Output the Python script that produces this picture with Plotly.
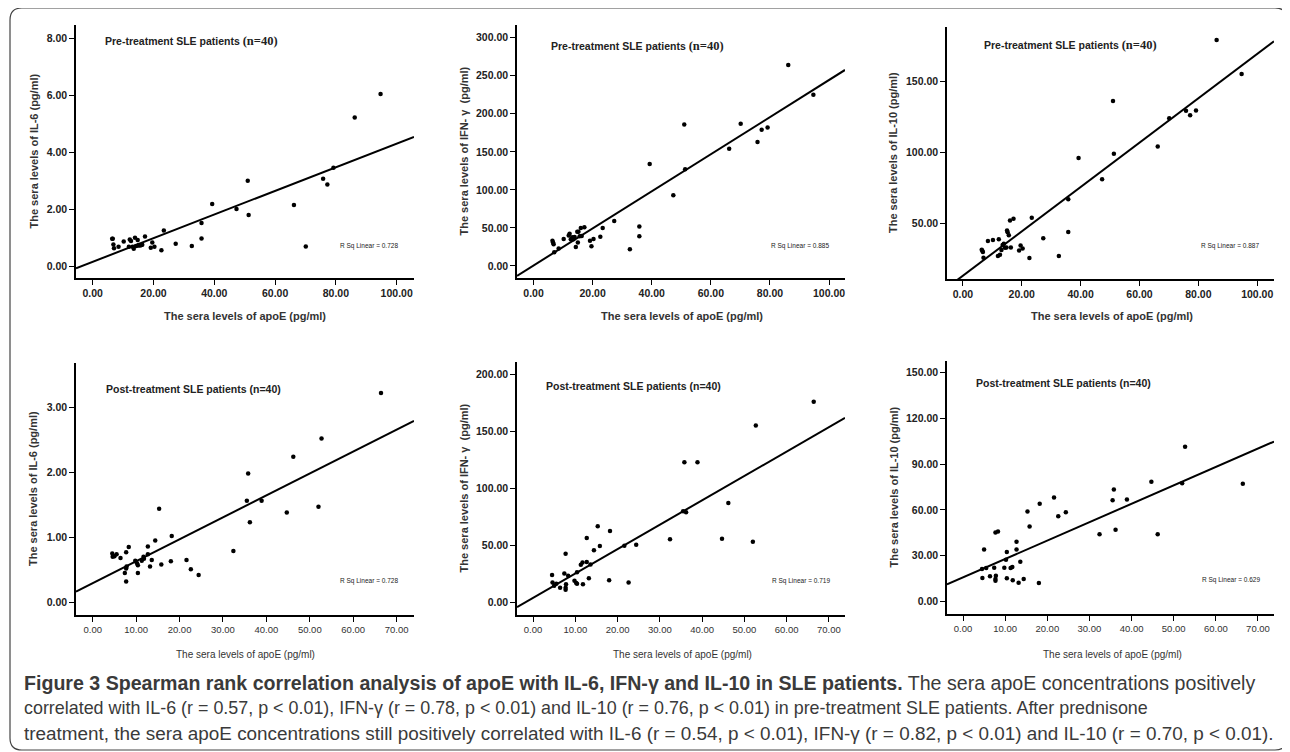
import plotly.graph_objects as go

# ---------------- data ----------------
pre_apoe = [94.7, 86.2, 79.2, 77.2, 75.8, 70.1, 66.2, 51.0, 51.3, 47.3,
            39.3, 35.8, 35.8, 32.6, 27.3, 23.4, 22.6, 20.3, 19.6, 19.1,
            17.2, 16.0, 15.6, 15.2, 15.0, 14.8, 14.3, 13.9, 13.5, 13.1,
            12.6, 12.2, 11.9, 10.2, 8.5, 7.0, 6.8, 6.6, 6.4, 16.3]
pre_il6 = [6.04, 5.21, 3.45, 2.86, 3.06, 0.69, 2.14, 2.99, 1.79, 2.00,
           2.18, 1.51, 0.97, 0.70, 0.78, 1.25, 0.55, 0.68, 0.83, 0.64,
           1.04, 0.74, 0.72, 0.74, 0.72, 0.91, 0.70, 0.99, 0.61, 0.68,
           0.88, 0.93, 0.68, 0.86, 0.68, 0.62, 0.76, 0.96, 0.96, 0.75]
pre_ifn = [225, 264, 182, 179, 163, 187, 154, 186, 127, 93,
           134, 52, 39, 22, 59, 50, 38.5, 35.5, 26, 33,
           51, 50, 39, 45, 31, 45, 25, 38, 35, 37.7,
           35, 42.5, 40, 35.5, 23, 18, 28.5, 31, 33, 39.5]
pre_il10 = [155, 179, 129.4, 126, 129.2, 124, 104, 136, 99, 81,
            96, 67, 44, 27, 39.5, 54, 25.6, 32.4, 34.5, 31,
            53.3, 52, 41.6, 43.7, 45, 33, 32.9, 35.7, 34.8, 31.3,
            28, 38.8, 27, 38.3, 37.6, 25.9, 29.9, 30.8, 31.5, 33]

post_apoe = [66.4, 52.7, 46.2, 52.0, 44.7, 35.8, 35.5, 38.9, 36.2, 32.4,
             15.3, 18.2, 14.4, 12.7, 18.0, 15.8, 21.6, 22.6, 24.4, 13.6,
             13.2, 12.7, 11.7, 11.3, 10.4, 10.4, 9.8, 8.3, 7.7, 7.8,
             7.7, 7.4, 7.7, 6.4, 5.5, 5.0, 4.5, 4.6, 10.2, 11.8]
post_il6 = [3.22, 2.52, 2.24, 1.47, 1.38, 1.98, 1.56, 1.56, 1.23, 0.79,
            1.44, 1.02, 0.95, 0.86, 0.63, 0.58, 0.65, 0.51, 0.42, 0.65,
            0.55, 0.74, 0.70, 0.64, 0.45, 0.57, 0.64, 0.85, 0.77, 0.55,
            0.52, 0.45, 0.32, 0.68, 0.74, 0.71, 0.75, 0.70, 0.60, 0.67]
post_ifn = [176, 155, 87.1, 53.2, 55.8, 122.8, 79.8, 122.8, 79, 55.3,
            66.7, 62.5, 45.6, 56.4, 19.3, 49.4, 49.7, 17.5, 50.6, 33.3,
            21.1, 35.4, 35, 33, 16.4, 26.3, 19, 23.4, 42.7, 15.8,
            12.9, 25.2, 11.1, 12.9, 16.4, 14.6, 24.0, 17.5, 17, 15.8]
post_il10 = [77.1, 101.5, 44.1, 77.5, 78.4, 73.4, 66.4, 66.8, 46.9, 44.1,
             58.9, 64, 14.7, 39.1, 12.0, 49.1, 68.1, 55.9, 58.5, 26.0,
             12.2, 34.1, 22.5, 21.9, 15.1, 32.3, 22.1, 45.8, 45.2, 16.8,
             14.6, 22.1, 13.5, 16.4, 21.9, 34.1, 21.2, 15.3, 27.3, 13.8]

# linear fit lines as drawn in the reference (intercept, slope)
fit_intercept = [0.148, 0.65, 13.2, 0.294, 4.01, 15.7]
fit_slope = [0.0415, 2.438, 1.560, 0.03375, 2.137, 1.208]
r_sq = ["0.728", "0.885", "0.887", "0.728", "0.719", "0.629"]

pre_title = ("Pre-treatment SLE patients "
             "<span style='font-family:Liberation Serif, serif;font-size:12.5px'>(n=40)</span>")
post_title = "Post-treatment SLE patients (n=40)"
y_titles = ["The sera levels of IL-6 (pg/ml)", "The sera levels of IFN- \u03b3  (pg/ml)",
            "The sera levels of IL-10 (pg/ml)"]
x_title = "The sera levels of apoE (pg/ml)"

# the page body has an 8px margin, so the figure is laid out in page pixels minus 8
OFF = 8
W, H = 1290 - OFF, 752 - OFF


def px(x):
    return (x - OFF) / W


def py(y):
    return 1 - (y - OFF) / H


panels = [
    dict(x=pre_apoe, y=pre_il6, dom=(76, 414, 25, 278), xr=[-5.5, 105.7], yr=[-0.42, 8.46],
         xt=[0, 20, 40, 60, 80, 100], yt=[0, 2, 4, 6, 8], title=pre_title, tpos=(103, 41),
         rpos=(338, 246), ytit=y_titles[0], ytx=33, cx=245, bottom=False),
    dict(x=pre_apoe, y=pre_ifn, dom=(517, 845, 25, 278), xr=[-5.6, 105.4], yr=[-15.8, 316.7],
         xt=[0, 20, 40, 60, 80, 100], yt=[0, 50, 100, 150, 200, 250, 300], title=pre_title,
         tpos=(549, 46), rpos=(769, 246), ytit=y_titles[1], ytx=463, cx=682, bottom=False),
    dict(x=pre_apoe, y=pre_il10, dom=(947, 1274, 27, 279), xr=[-5.4, 105.7], yr=[10.9, 188.1],
         xt=[0, 20, 40, 60, 80, 100], yt=[50, 100, 150], title=pre_title, tpos=(982, 45),
         rpos=(1199, 246), ytit=y_titles[2], ytx=893, cx=1112, bottom=False),
    dict(x=post_apoe, y=post_il6, dom=(76, 414, 363, 615), xr=[-3.85, 74.0], yr=[-0.195, 3.68],
         xt=[0, 10, 20, 30, 40, 50, 60, 70], yt=[0, 1, 2, 3], title=post_title, tpos=(104, 389),
         rpos=(338, 581), ytit=y_titles[0], ytx=33, cx=245, bottom=True),
    dict(x=post_apoe, y=post_ifn, dom=(517, 845, 362, 615), xr=[-3.8, 73.8], yr=[-11.1, 210.8],
         xt=[0, 10, 20, 30, 40, 50, 60, 70], yt=[0, 50, 100, 150, 200], title=post_title,
         tpos=(544, 386), rpos=(770, 581), ytit=y_titles[1], ytx=463, cx=682, bottom=True),
    dict(x=post_apoe, y=post_il10, dom=(947, 1274, 361, 614), xr=[-3.8, 73.8], yr=[-8.3, 157.7],
         xt=[0, 10, 20, 30, 40, 50, 60, 70], yt=[0, 30, 60, 90, 120, 150], title=post_title,
         tpos=(974, 383), rpos=(1200, 580), ytit=y_titles[2], ytx=893, cx=1112, bottom=True),
]

fig = go.Figure()
annotations = []
SANS = "Liberation Sans, Arial, sans-serif"

for i, p in enumerate(panels):
    n = "" if i == 0 else str(i + 1)
    xa, ya = "x" + n, "y" + n
    x0, x1, y0, y1 = p["dom"]
    fig.add_trace(go.Scatter(x=p["x"], y=p["y"], mode="markers", xaxis=xa, yaxis=ya,
                             marker=dict(size=4.5, color="black"), showlegend=False,
                             hoverinfo="x+y"))
    lx = [p["xr"][0], p["xr"][1]]
    ly = [fit_intercept[i] + fit_slope[i] * v for v in lx]
    fig.add_trace(go.Scatter(x=lx, y=ly, mode="lines", xaxis=xa, yaxis=ya,
                             line=dict(color="black", width=2), showlegend=False,
                             hoverinfo="skip"))
    xfont = dict(family=SANS, size=9.5, color="#333") if p["bottom"] else \
        dict(family=SANS, size=10.5, color="#222", weight="bold")
    fig.layout["xaxis" + n] = dict(
        domain=[px(x0), px(x1)], range=p["xr"], anchor=ya, tickvals=p["xt"],
        tickformat=".2f", showline=True, linecolor="black", linewidth=1.6,
        ticks="outside", ticklen=5, tickwidth=1.2, tickcolor="black",
        showgrid=False, zeroline=False, tickfont=xfont, fixedrange=True)
    fig.layout["yaxis" + n] = dict(
        domain=[py(y1), py(y0)], range=p["yr"], anchor=xa, tickvals=p["yt"],
        tickformat=".2f", showline=True, linecolor="black", linewidth=1.6,
        ticks="outside", ticklen=5, tickwidth=1.2, tickcolor="black",
        showgrid=False, zeroline=False,
        tickfont=dict(family=SANS, size=10.5, color="#222", weight="bold"), fixedrange=True)
    # panel title
    annotations.append(dict(x=px(p["tpos"][0]), y=py(p["tpos"][1]), xref="paper", yref="paper",
                            text=p["title"], showarrow=False, xanchor="left", yanchor="middle",
                            font=dict(family=SANS, size=10.5, color="#222", weight="bold")))
    # R squared
    annotations.append(dict(x=px(p["rpos"][0]), y=py(p["rpos"][1]), xref="paper", yref="paper",
                            text="R Sq Linear = " + r_sq[i], showarrow=False, xanchor="left",
                            yanchor="middle", font=dict(family=SANS, size=6.5, color="#222")))
    # y title
    annotations.append(dict(x=px(p["ytx"]), y=py((y0 + y1) / 2), xref="paper", yref="paper",
                            text=p["ytit"], showarrow=False, textangle=-90, xanchor="center",
                            yanchor="middle",
                            font=dict(family=SANS, size=11, color="#333", weight="bold")))
    # x title
    if p["bottom"]:
        annotations.append(dict(x=px(p["cx"]), y=py(654), xref="paper", yref="paper",
                                text=x_title, showarrow=False, xanchor="center", yanchor="middle",
                                font=dict(family=SANS, size=10, color="#333")))
    else:
        annotations.append(dict(x=px(p["cx"]), y=py(316), xref="paper", yref="paper",
                                text=x_title, showarrow=False, xanchor="center", yanchor="middle",
                                font=dict(family=SANS, size=11, color="#333", weight="bold")))

caption_lines = [
    "<b>Figure 3 Spearman rank correlation analysis of apoE with IL-6, IFN-\u03b3 and IL-10 in SLE patients.</b>"
    " The sera apoE concentrations positively",
    "correlated with IL-6 (r = 0.57, p &lt; 0.01), IFN-\u03b3 (r = 0.78, p &lt; 0.01) and IL-10 (r = 0.76, p &lt; 0.01)"
    " in pre-treatment SLE patients. After prednisone",
    "treatment, the sera apoE concentrations still positively correlated with IL-6 (r = 0.54, p &lt; 0.01),"
    " IFN-\u03b3 (r = 0.82, p &lt; 0.01) and IL-10 (r = 0.70, p &lt; 0.01).",
]
caption_sizes = [19.6, 17.9, 18.9]
for k, line in enumerate(caption_lines):
    annotations.append(dict(x=px(22), y=py(683 + 25 * k), xref="paper", yref="paper",
                            text=line, showarrow=False, xanchor="left", yanchor="middle",
                            font=dict(family=SANS, size=caption_sizes[k], color="#3a3a3a")))

# rounded border around the figure
bx0, by0, bx1, by1, r = 10, 8, 1287, 750, 12
path = (f"M {px(bx0 + r)},{py(by0)} L {px(bx1 - r)},{py(by0)} "
        f"Q {px(bx1)},{py(by0)} {px(bx1)},{py(by0 + r)} "
        f"L {px(bx1)},{py(by1 - r)} Q {px(bx1)},{py(by1)} {px(bx1 - r)},{py(by1)} "
        f"L {px(bx0 + r)},{py(by1)} Q {px(bx0)},{py(by1)} {px(bx0)},{py(by1 - r)} "
        f"L {px(bx0)},{py(by0 + r)} Q {px(bx0)},{py(by0)} {px(bx0 + r)},{py(by0)} Z")

fig.update_layout(
    width=W, height=H, margin=dict(l=0, r=0, t=0, b=0),
    paper_bgcolor="white", plot_bgcolor="white",
    annotations=annotations,
    shapes=[dict(type="path", path=path, xref="paper", yref="paper",
                 line=dict(color="#444", width=1.2))],
    showlegend=False,
)

fig.write_html("out.html")
